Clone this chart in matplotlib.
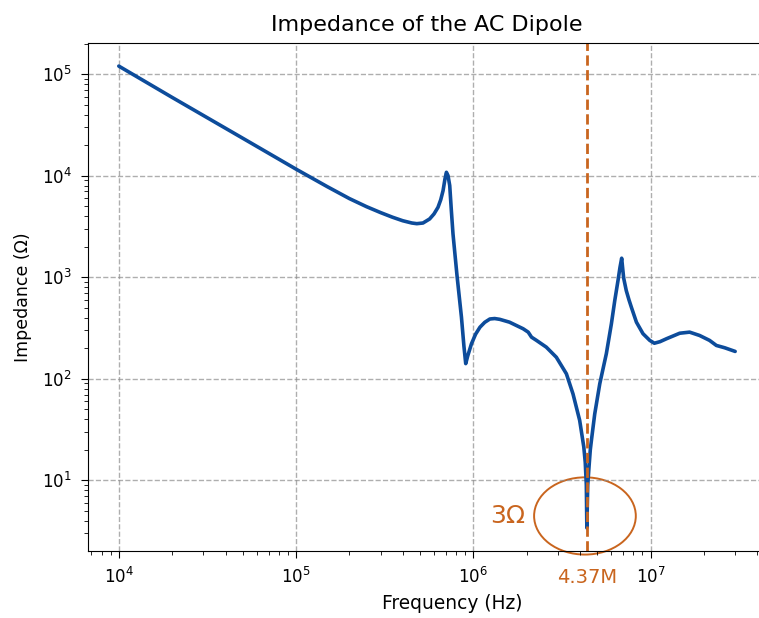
import numpy as np
import matplotlib
matplotlib.use("Agg")
import matplotlib.pyplot as plt
from matplotlib.patches import Ellipse
from matplotlib.transforms import blended_transform_factory

# impedance curve (Hz, Ohm)
freq = [1.0e4, 2.0e4, 5.0e4, 1.0e5, 1.5e5, 2.0e5, 2.5e5, 3.0e5, 3.5e5,
        4.0e5, 4.5e5, 4.8e5, 5.2e5, 5.67e5, 6.0e5, 6.32e5, 6.55e5, 6.75e5,
        6.92e5, 7.05e5, 7.2e5, 7.36e5, 7.52e5, 7.68e5, 8.09e5, 8.57e5, 8.85e5,
        9.06e5, 9.3e5, 9.76e5, 1.03e6, 1.09e6, 1.16e6, 1.24e6, 1.32e6, 1.41e6,
        1.60e6, 1.91e6, 2.04e6, 2.13e6, 2.27e6, 2.58e6, 2.94e6, 3.35e6, 3.65e6,
        3.98e6, 4.20e6, 4.28e6, 4.34e6, 4.37e6, 4.42e6, 4.50e6, 4.57e6, 4.64e6,
        4.84e6, 5.17e6, 5.63e6, 6.01e6, 6.28e6, 6.55e6, 6.72e6, 6.87e6, 6.95e6,
        7.05e6, 7.29e6, 7.55e6, 7.79e6, 8.32e6, 9.06e6, 9.89e6, 1.05e7, 1.13e7,
        1.23e7, 1.46e7, 1.66e7, 1.89e7, 2.15e7, 2.35e7, 2.62e7, 3.0e7]
imped = [1.2e5, 5.9e4, 2.34e4, 1.16e4, 7.8e3, 5.95e3, 4.95e3, 4.33e3, 3.9e3,
         3.6e3, 3.42e3, 3.37e3, 3.42e3, 3.75e3, 4.2e3, 4.88e3, 5.8e3, 7.13e3,
         9.3e3, 1.08e4, 1.0e4, 8.0e3, 4.5e3, 2.67e3, 1040, 405, 210,
         141, 168, 221, 275, 322, 360, 388, 392, 385,
         361, 311, 288, 257, 239, 205, 163, 112, 71,
         39, 21.3, 15, 9.0, 3.4, 9.0, 14, 20, 25,
         45, 89.6, 177, 348, 590, 929, 1250, 1540, 1250,
         980, 740, 600, 507, 361, 278, 239, 224, 232,
         248, 281, 288, 267, 239, 213, 202, 186]

f_res = 4.37e6
res_label = "4.37M"
min_label = "3\u03a9"

blue = "#0d4c9b"
orange = "#c9651e"

fig = plt.figure(figsize=(7.59, 6.18), dpi=100)
ax = fig.add_axes([0.1159, 0.1084, 0.8933, 0.822])

ax.plot(freq, imped, color=blue, lw=2.6, solid_capstyle="round",
        solid_joinstyle="round")
ax.set_xscale("log")
ax.set_yscale("log")

ax.axvline(f_res, color=orange, lw=2, linestyle="--")

ax.grid(True, which="major", linestyle="--", color="0.55", alpha=0.7, lw=1)
ax.tick_params(axis="both", which="major", labelsize=12, length=4.7, pad=7)
ax.tick_params(axis="both", which="minor", length=2.6)

ax.set_title("Impedance of the AC Dipole", fontsize=16, pad=9)
ax.set_xlabel("Frequency (Hz)", fontsize=13.4)
ax.set_ylabel("Impedance (\u03a9)", fontsize=12.5)
ax.xaxis.set_label_coords(0.537, -0.085)
ax.yaxis.set_label_coords(-0.082, 0.5)

# highlight of the resonance minimum
ell = Ellipse((0.733, 0.069), 0.150, 0.152, transform=ax.transAxes,
              fill=False, edgecolor=orange, lw=1.4, clip_on=False)
ax.add_patch(ell)
ax.text(0.619, 0.069, min_label, transform=ax.transAxes, color=orange,
        fontsize=18, ha="center", va="center")

trans = blended_transform_factory(ax.transData, ax.transAxes)
ax.text(f_res, -0.034, res_label, transform=trans, color=orange,
        fontsize=14, ha="center", va="top")

plt.savefig("out.png", dpi=100)
